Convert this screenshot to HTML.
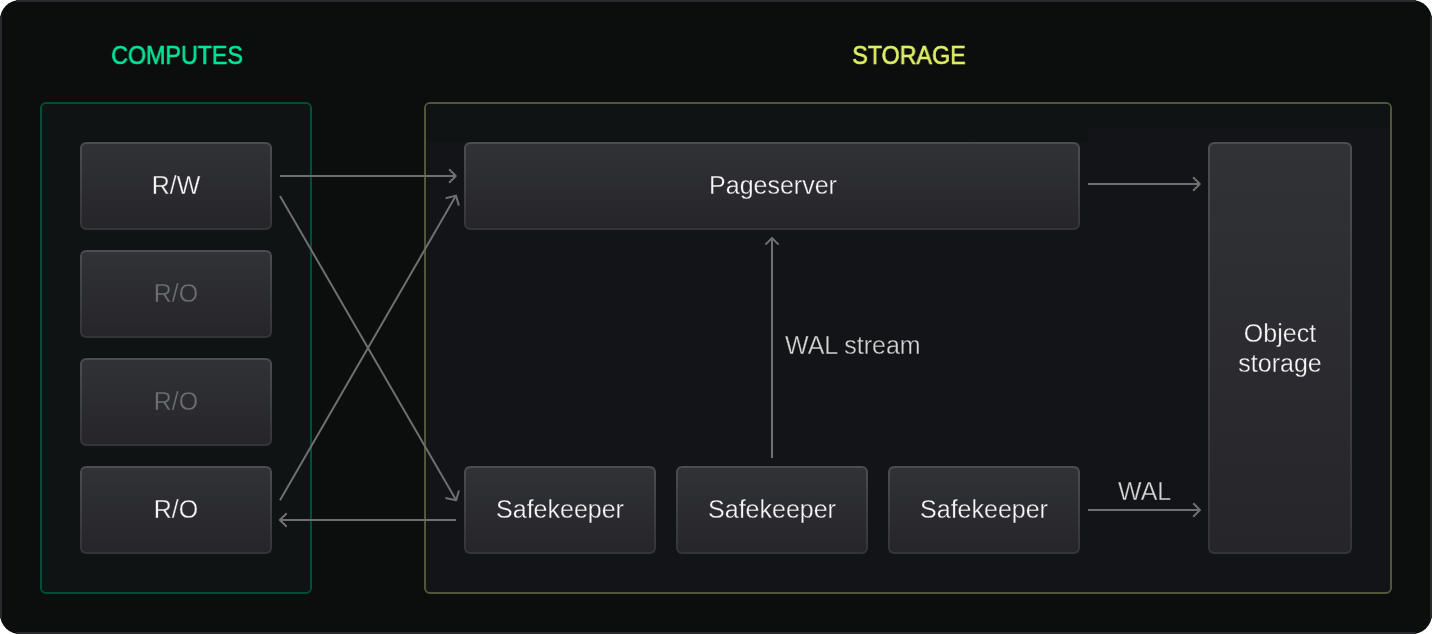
<!DOCTYPE html>
<html>
<head>
<meta charset="utf-8">
<style>
html,body{margin:0;padding:0;background:#ffffff;}
body{-webkit-font-smoothing:antialiased;width:1432px;height:634px;position:relative;overflow:hidden;font-family:"Liberation Sans",sans-serif;}
#frame{position:absolute;left:0;top:0;width:1432px;height:634px;border-radius:20px;background:#0c0d0d;}
.st{position:absolute;background:#29292e;}
.lbl{will-change:transform;position:absolute;top:40px;height:30px;line-height:30px;font-size:25px;transform:scaleX(0.93);-webkit-text-stroke:0.6px currentColor;white-space:nowrap;text-align:center;}
#lc{left:77px;width:200px;color:#00e599;}
#ls{left:809px;width:200px;color:#e0f066;}
.ctr{position:absolute;box-sizing:border-box;border-radius:6px;}
#cc{left:40px;top:102px;width:272px;height:492px;border:2px solid #004f38;background:#0f1314;}
#cs{left:424px;top:102px;width:968px;height:492px;border:2px solid #51563a;background:#131417;}
.box{will-change:transform;position:absolute;box-sizing:border-box;border:2px solid transparent;border-radius:6px;background:linear-gradient(#313236,#26262a) padding-box,linear-gradient(#4a4d51,#333438) border-box;color:#f6f6f8;font-size:25px;display:flex;align-items:center;justify-content:center;text-align:center;line-height:30px;padding-bottom:2px;}
.dim{color:#6d6e71;}
.box span{-webkit-text-stroke:0.3px #2c2d31;}
.t span{-webkit-text-stroke:0.3px #131417;}
svg{position:absolute;left:0;top:0;}
.t{will-change:transform;position:absolute;font-size:25px;color:#d4d4d6;white-space:nowrap;line-height:28px;}
</style>
</head>
<body>
<div id="frame"></div>
<div class="st" style="left:16px;top:0;width:1400px;height:2px;"></div>
<div class="st" style="left:16px;bottom:0;width:1400px;height:2px;"></div>
<div class="st" style="left:0;top:16px;width:2px;height:602px;"></div>
<div class="st" style="right:0;top:16px;width:2px;height:602px;"></div>
<div class="lbl" id="lc">COMPUTES</div>
<div class="lbl" id="ls">STORAGE</div>
<div class="ctr" id="cc"></div>
<div class="ctr" id="cs"></div>
<div style="position:absolute;left:426px;top:104px;width:662px;height:38px;background:#0f1314;border-top-left-radius:4px;"></div>
<div style="position:absolute;left:1088px;top:104px;width:302px;height:24px;background:#0f1314;border-top-right-radius:4px;"></div>

<div class="box" style="left:80px;top:142px;width:192px;height:88px;"><span>R/W</span></div>
<div class="box dim" style="left:80px;top:250px;width:192px;height:88px;"><span>R/O</span></div>
<div class="box dim" style="left:80px;top:358px;width:192px;height:88px;"><span>R/O</span></div>
<div class="box" style="left:80px;top:466px;width:192px;height:88px;"><span>R/O</span></div>

<div class="box" style="left:464px;top:142px;width:616px;height:88px;"><span style="position:relative;left:1px">Pageserver</span></div>
<div class="box" style="left:1208px;top:142px;width:144px;height:412px;padding-bottom:0;"><span>Object<br>storage</span></div>
<div class="box" style="left:464px;top:466px;width:192px;height:88px;"><span>Safekeeper</span></div>
<div class="box" style="left:676px;top:466px;width:192px;height:88px;"><span>Safekeeper</span></div>
<div class="box" style="left:888px;top:466px;width:192px;height:88px;"><span>Safekeeper</span></div>

<div class="t" style="left:785px;top:331px;"><span>WAL stream</span></div>
<div class="t" style="left:1118px;top:477px;"><span>WAL</span></div>

<svg width="1432" height="634" viewBox="0 0 1432 634" fill="none" stroke="#6f6f71" stroke-width="2" stroke-linecap="butt" stroke-linejoin="round">
  <path d="M280 176H455.8"/>
  <path d="M449.1 169.3L455.8 176L449.1 182.7"/>
  <path d="M280 196L456.2 500.3"/>
  <path d="M445.4 498L456.2 500.3L458.9 490.6"/>
  <path d="M280 500.2L456 195.6"/>
  <path d="M445.6 198.2L456 195.6L458.9 205.6"/>
  <path d="M456 520H279.9"/>
  <path d="M286.7 513.2L279.9 520L286.7 526.8"/>
  <path d="M1088 184H1199.8"/>
  <path d="M1193.1 177.3L1199.8 184L1193.1 190.7"/>
  <path d="M772 458V238.5"/>
  <path d="M765.4 244.6L772 238L778.6 244.6"/>
  <path d="M1088 510H1199.9"/>
  <path d="M1193.2 503.3L1199.9 510L1193.2 516.7"/>
</svg>
</body>
</html>
